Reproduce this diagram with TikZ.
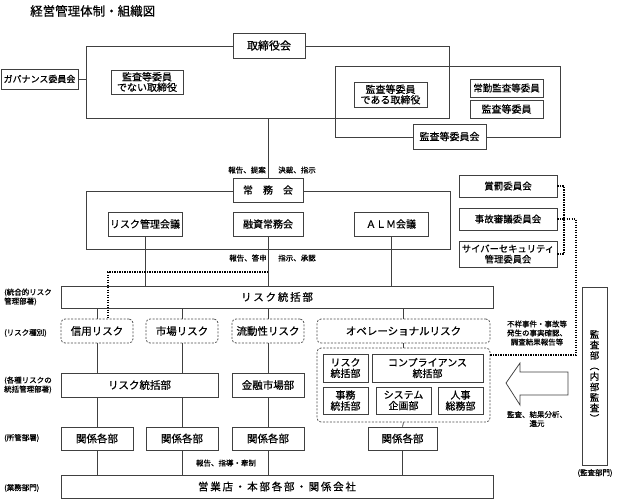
\documentclass[tikz,border=0pt]{standalone}
\usepackage{fontspec}
\setmainfont{Noto Sans CJK JP}[FakeBold=0.6]
\newfontfamily\jpwide[LetterSpace=17,FakeBold=0.6]{Noto Sans CJK JP}

\begin{document}
\begin{tikzpicture}[x=1pt,y=-1pt,
  box/.style={draw=black!75, line width=0.75pt, fill=white, inner sep=0pt, align=center, font=\fontsize{10}{11}\selectfont},
  frame/.style={draw=black!75, line width=0.75pt, inner sep=0pt},
  riskbox/.style={draw=black!70, line width=0.75pt, dash pattern=on 2pt off 1.5pt, rounded corners=4pt, fill=white, inner sep=0pt, align=center, font=\fontsize{10.5}{12}\selectfont},
  link/.style={draw=black!75, line width=0.75pt},
  dotline/.style={draw=black, line width=1.3pt, dash pattern=on 1.3pt off 1.2pt},
  note/.style={font=\fontsize{7.5}{9}\selectfont, align=center, inner sep=0pt},
  side/.style={font=\fontsize{7.5}{9}\selectfont, align=left, anchor=west, inner sep=0pt}]

\useasboundingbox (0,0) rectangle (617,499);

%% Title in the upper left corner
\node[anchor=west, inner sep=0pt, font=\fontsize{12.5}{14}\selectfont] (title) at (30,11) {経営管理体制・組織図};

%% The large frames go first, so that the boxes sitting on their edges can cover the lines with white
\node[frame, minimum width=363, minimum height=72] (boardframe) at (267.5,82) {};
\node[frame, minimum width=225, minimum height=71] (auditframe) at (447.5,101.5) {};
\node[frame, minimum width=364, minimum height=58] (jomuframe) at (268,220) {};
\node[riskbox, minimum width=173, minimum height=74] (opframe) at (403.5,385) {};

%% Board of directors
\node[box, minimum width=72, minimum height=25, font=\fontsize{11}{12}\selectfont] (board) at (269,45.5) {取締役会};
\node[box, minimum width=77, minimum height=20, font=\fontsize{9}{10}\selectfont] (gov) at (39.5,79) {ガバナンス委員会};
\node[box, minimum width=72, minimum height=24, font=\fontsize{10}{10.5}\selectfont] (notaudit) at (147,82) {監査等委員\\でない取締役};
\node[box, minimum width=73, minimum height=25, font=\fontsize{10}{10.5}\selectfont] (isaudit) at (390.5,94.5) {監査等委員\\である取締役};
\node[box, minimum width=73, minimum height=18, font=\fontsize{9.5}{10}\selectfont] (fulltime) at (506.5,88) {常勤監査等委員};
\node[box, minimum width=73, minimum height=18] (member) at (506.5,109) {監査等委員};
\node[box, minimum width=73, minimum height=25] (auditcom) at (449.5,136.5) {監査等委員会};

%% Executive committee and its councils
\node[box, minimum width=70, minimum height=24] (jomu) at (268,190) {常\hspace{1em}務\hspace{1em}会};
\node[box, minimum width=74, minimum height=24] (riskmgmt) at (145,224) {リスク管理会議};
\node[box, minimum width=70, minimum height=24] (loan) at (268,224) {融資常務会};
\node[box, minimum width=74, minimum height=24] (alm) at (391,224) {ＡＬＭ会議};

\node[box, minimum width=98, minimum height=22, font=\fontsize{9.5}{10}\selectfont] (reward) at (508,186) {賞罰委員会};
\node[box, minimum width=98, minimum height=22, font=\fontsize{9.5}{10}\selectfont] (accident) at (508,219) {事故審議委員会};
\node[box, minimum width=98, minimum height=26, font=\fontsize{9.3}{10.5}\selectfont] (cyber) at (508,254) {サイバーセキュリティ\\管理委員会};

%% Risk management rows
\node[box, minimum width=432, minimum height=22] (riskhq) at (277,297) {\jpwide\fontsize{10.5}{12}\selectfont リスク統括部};
\node[riskbox, minimum width=72, minimum height=24] (credit) at (97,331) {信用リスク};
\node[riskbox, minimum width=72, minimum height=24] (market) at (182,331) {市場リスク};
\node[riskbox, minimum width=72, minimum height=24] (liquidity) at (268,331) {流動性リスク};
\node[riskbox, minimum width=173, minimum height=24] (oprisk) at (403.5,331) {オペレーショナルリスク};

\node[box, minimum width=45, minimum height=28] (opriskdiv) at (345.5,368) {リスク\\統括部};
\node[box, minimum width=111, minimum height=28] (compliance) at (427.5,368) {コンプライアンス\\統括部};
\node[box, minimum width=45, minimum height=27] (admin) at (345.5,400.5) {事務\\統括部};
\node[box, minimum width=55, minimum height=27] (system) at (403.5,400.5) {システム\\企画部};
\node[box, minimum width=45, minimum height=27] (hr) at (460.5,400.5) {人事\\総務部};

\node[box, minimum width=157, minimum height=24, font=\fontsize{10.5}{12}\selectfont] (riskdiv) at (139.5,385) {リスク統括部};
\node[box, minimum width=72, minimum height=24, font=\fontsize{10.5}{12}\selectfont] (finmkt) at (268,385) {金融市場部};

\node[box, minimum width=72, minimum height=23, font=\fontsize{10.5}{12}\selectfont] (relA) at (97,438.5) {関係各部};
\node[box, minimum width=72, minimum height=23, font=\fontsize{10.5}{12}\selectfont] (relB) at (182,438.5) {関係各部};
\node[box, minimum width=72, minimum height=23, font=\fontsize{10.5}{12}\selectfont] (relC) at (268,438.5) {関係各部};
\node[box, minimum width=69, minimum height=23, font=\fontsize{10.5}{12}\selectfont] (relD) at (402.5,438.5) {関係各部};

\node[box, minimum width=432, minimum height=23] (branch) at (277,486.5) {\jpwide\fontsize{10.5}{12}\selectfont 営業店・本部各部・関係会社};

%% Internal audit, written top to bottom
\node[box, minimum width=25, minimum height=178, font=\fontsize{9.5}{10.5}\selectfont] (auditdept) at (594.5,376) {監\\査\\部\\︵\\内\\部\\監\\査\\︶};

%% Side labels on the left and the small notes beside the lines
\node[side] (lblA) at (4,297) {(統合的リスク\\管理部署)};
\node[side] (lblB) at (4,333) {(リスク種別)};
\node[side] (lblC) at (4,385) {(各種リスクの\\統括管理部署)};
\node[side] (lblD) at (4,438) {(所管部署)};
\node[side] (lblE) at (4,488) {(業務部門)};
\node[note] (lblF) at (595,473) {(監査部門)};

\node[note] (noteA) at (247,170) {報告、提案};
\node[note] (noteB) at (297,170) {決裁、指示};
\node[note] (noteC) at (248,258) {報告、答申};
\node[note] (noteD) at (297,258) {指示、承認};
\node[note] (noteE) at (226,463) {報告、指導・牽制};
\node[note] (noteF) at (537,333) {不祥事件・事故等\\発生の事実確認、\\調査結果報告等};
\node[note] (noteG) at (537,419) {監査、結果分析、\\還元};

%% Solid connectors
\draw[link] (gov.east) -- (gov.east -| boardframe.west);
\draw[link] (jomu.north |- boardframe.south) -- (jomu.north);
\draw[link] (riskmgmt.south) -- (riskmgmt.south |- riskhq.north);
\draw[link] (loan.south) -- (loan.south |- riskhq.north);
\draw[link] (alm.south) -- (alm.south |- riskhq.north);
\foreach \r in {credit,market,liquidity,oprisk}
  \draw[link] (\r.north |- riskhq.south) -- (\r.north);
\draw[link] (credit.south) -- (credit.south |- riskdiv.north);
\draw[link] (market.south) -- (market.south |- riskdiv.north);
\draw[link] (liquidity.south) -- (finmkt.north);
\draw[link] (oprisk.south) -- (opframe.north);
\draw[link] (relA.north |- riskdiv.south) -- (relA.north);
\draw[link] (relB.north |- riskdiv.south) -- (relB.north);
\draw[link] (finmkt.south) -- (relC.north);
\draw[link] (opframe.south) -- (relD.north);
\foreach \r in {relA,relB,relC,relD}
  \draw[link] (\r.south) -- (\r.south |- branch.north);

%% Dotted reporting lines
\coordinate (dotA) at (268,272);
\coordinate (dotB) at (108,272);
\draw[dotline] (dotA) -- (dotB) -- (dotB |- credit.north);
\coordinate (dotC) at (564,219);
\draw[dotline] (reward.east) -| (dotC) |- (cyber.east);
\draw[dotline] (accident.east) -- (dotC);
\coordinate (dotD) at (576,355);
\draw[dotline] (accident.east -| dotC) -| (dotD) -- (dotD -| opframe.east);

%% Hollow arrow from the audit department
\draw[link, fill=white] (506,383) -- (520,363) -- (520,372) -- (568,372) -- (568,395) -- (520,395) -- (520,405) -- cycle;

\end{tikzpicture}
\end{document}
